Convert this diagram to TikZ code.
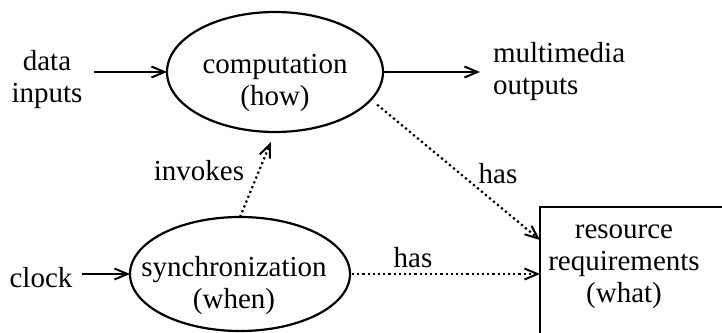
\documentclass[tikz,border=0pt]{standalone}
\usepackage{fontspec}
\setmainfont{Liberation Serif}
\usetikzlibrary{arrows.meta,shapes.geometric,calc}
\begin{document}
\begin{tikzpicture}[x=0.5pt,y=-0.5pt,
  every node/.style={inner sep=0pt,outer sep=0pt},
  txt/.style={font=\fontsize{14.5}{16}\selectfont,align=center},
  bubble/.style={draw,ellipse,line width=1.1pt},
  boxshape/.style={draw,rectangle,line width=1.1pt,anchor=north west,minimum width=200pt,minimum height=150pt},
  flow/.style={line width=1.2pt,-{Straight Barb[length=6.5pt,width=5.5pt,line width=1pt]}},
  rel/.style={line width=1.1pt,dash pattern=on 1.1pt off 1.5pt,-{Straight Barb[length=6.5pt,width=5.5pt,line width=1pt]}}]
  \useasboundingbox (0,0) rectangle (722,332);
  \clip (0,0) rectangle (722,332);

  % processes
  \node[bubble,minimum width=108pt,minimum height=60pt] (comp) at (275,72) {};
  \node[txt] (comptxt) at (275,83) {computation\\(how)};
  \node[bubble,minimum width=110pt,minimum height=57pt] (sync) at (240,274) {};
  \node[txt] (synctxt) at (234,286) {synchronization\\(when)};

  % resource box, running off the right and bottom edges
  \node[boxshape] (res) at (540,207) {};
  \node[txt] (restxt) at (624,267) {resource\\requirements\\(what)};

  % external inputs and outputs
  \node[txt] (datain) at (47,80) {data\\inputs};
  \node[txt,align=left,anchor=west] (mmout) at (493,72) {multimedia\\outputs};
  \node[txt,anchor=base] (clock) at (41,287) {clock};

  % data flow
  \draw[flow,shorten <=6pt] (datain.east |- comp.west) -- (comp.west);
  \draw[flow,shorten >=6.5pt] (comp.east) -- (comp.east -| mmout.west);
  \draw[flow,shorten <=5pt] (clock.east |- sync.west) -- (sync.west);

  % relations
  \draw[rel,shorten >=5.5pt] (sync.north) -- (comp.south);
  \node[txt,anchor=base] (invokes) at (199,180) {invokes};
  \draw[rel,shorten <=4pt] (comp.-16) -- ([yshift=-16.5pt]res.north west);
  \node[txt,anchor=base] (has1) at (498,183) {has};
  \draw[rel,shorten <=1pt] (sync.east) -- (sync.east -| res.north west);
  \node[txt,anchor=base] (has2) at (413,267) {has};
\end{tikzpicture}
\end{document}
